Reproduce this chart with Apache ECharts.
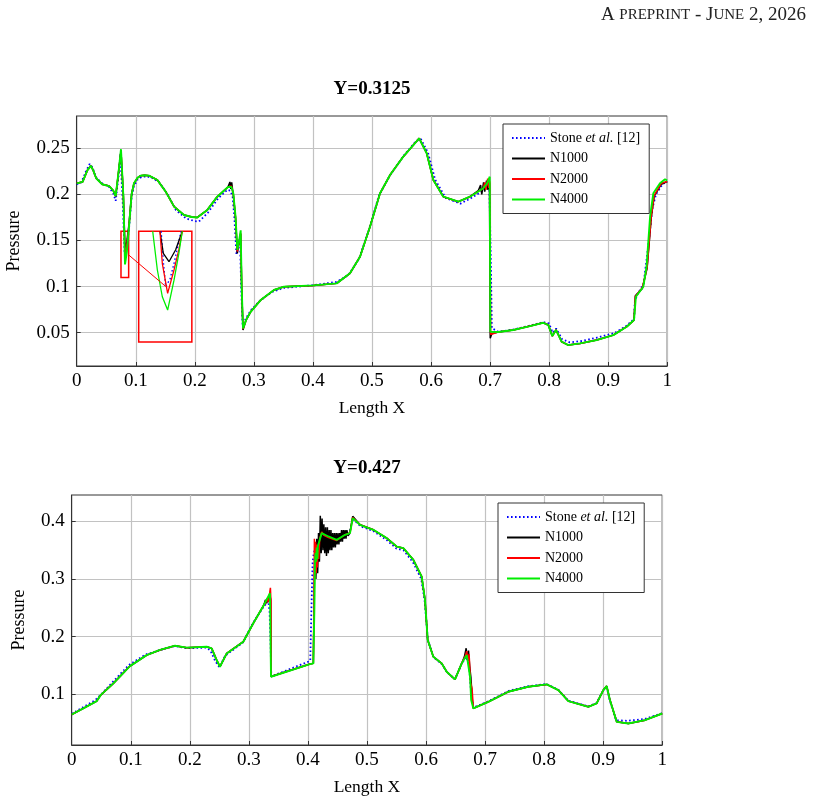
<!DOCTYPE html>
<html>
<head>
<meta charset="utf-8">
<script src="https://cdn.jsdelivr.net/npm/echarts@6/dist/echarts.min.js"></script>
<style>
html, body { margin: 0; padding: 0; background: #fff; }
#chart { width: 813px; height: 804px; }
</style>
</head>
<body>
<div id="chart"></div>
<script>
// ---- Y=0.3125 (upper plot) ----
// pieces shared by the N1000 / N2000 / N4000 runs
const c1Start = [[0, 0.212], [0.01, 0.2135], [0.018, 0.226], [0.024, 0.231], [0.028, 0.226], [0.033, 0.2175], [0.043, 0.211], [0.055, 0.209], [0.062, 0.204], [0.066, 0.198], [0.071, 0.225]]
const c1Mid = [[0.097, 0.212], [0.103, 0.218], [0.108, 0.2203], [0.115, 0.2207], [0.1225, 0.2203], [0.1366, 0.2156], [0.1507, 0.203], [0.165, 0.1867], [0.1817, 0.1776], [0.195, 0.1755], [0.2042, 0.175], [0.221, 0.183], [0.238, 0.1975], [0.2562, 0.208]]
const c1Rise = [[0.287, 0.064], [0.2946, 0.0727], [0.3116, 0.0854], [0.3341, 0.0963], [0.351, 0.0999], [0.4007, 0.1013], [0.4403, 0.1035], [0.4628, 0.1144], [0.4798, 0.1324], [0.4967, 0.1649], [0.5137, 0.2012], [0.5306, 0.221], [0.553, 0.2409], [0.58, 0.2608], [0.5927, 0.2446], [0.604, 0.2156], [0.6209, 0.1975], [0.6463, 0.1921], [0.666, 0.1975]]
const c1Low = [[0.7394, 0.0529], [0.7677, 0.0572], [0.79, 0.0608], [0.7987, 0.0583], [0.8054, 0.0463], [0.8117, 0.053], [0.8213, 0.0402], [0.8325, 0.0366], [0.8523, 0.0384], [0.8806, 0.042], [0.9087, 0.0474], [0.9314, 0.0565], [0.9438, 0.0637]]

// N4000 (green)
const c1DipG = [[0.075, 0.249], [0.079, 0.198], [0.0818, 0.124], [0.085, 0.138], [0.0886, 0.165], [0.093, 0.2]]
const c1ShockG = [[0.262, 0.208], [0.2652, 0.2012], [0.269, 0.1758], [0.272, 0.14], [0.2745, 0.147], [0.2777, 0.161], [0.2794, 0.1], [0.2816, 0.0547]]
const c1JumpG = [[0.6886, 0.2066], [0.695, 0.212], [0.6995, 0.2192], [0.7005, 0.051], [0.714, 0.0507]]
const c1EndG = [[0.947, 0.089], [0.9595, 0.0998], [0.965, 0.1215], [0.971, 0.1758], [0.9765, 0.2012], [0.9878, 0.212], [0.9963, 0.2164], [1, 0.215]]

// N1000 (black)
const c1DipK = [[0.075, 0.247], [0.079, 0.2], [0.0818, 0.142], [0.085, 0.149], [0.0886, 0.168], [0.093, 0.201]]
const c1ShockK = [[0.258, 0.21], [0.2595, 0.2135], [0.261, 0.206], [0.2625, 0.213], [0.264, 0.205], [0.2652, 0.2], [0.269, 0.174], [0.272, 0.136], [0.2745, 0.146], [0.2777, 0.157], [0.2794, 0.1], [0.2816, 0.053]]
const c1JumpK = [[0.68, 0.204], [0.684, 0.21], [0.686, 0.2], [0.689, 0.213], [0.691, 0.203], [0.694, 0.215], [0.696, 0.205], [0.699, 0.212], [0.7003, 0.044], [0.703, 0.049], [0.714, 0.0507]]
const c1EndK = [[0.946, 0.09], [0.958, 0.098], [0.966, 0.12], [0.973, 0.175], [0.978, 0.198], [0.99, 0.211], [1, 0.214]]

// N2000 (red)
const c1DipR = [[0.075, 0.247], [0.079, 0.198], [0.0818, 0.133], [0.085, 0.145], [0.0886, 0.166], [0.093, 0.2]]
const c1ShockR = [[0.262, 0.209], [0.2652, 0.2], [0.269, 0.175], [0.272, 0.138], [0.2745, 0.146], [0.2777, 0.158], [0.2794, 0.1], [0.2816, 0.054]]
const c1JumpR = [[0.6886, 0.2066], [0.691, 0.213], [0.693, 0.205], [0.696, 0.217], [0.698, 0.207], [0.6995, 0.214], [0.701, 0.048], [0.714, 0.0507]]
const c1EndR = [[0.946, 0.089], [0.958, 0.099], [0.966, 0.121], [0.973, 0.176], [0.978, 0.199], [0.99, 0.212], [1, 0.214]]

// Stone et al. (blue dotted)
const c1Stone = [[0, 0.211], [0.008, 0.213], [0.015, 0.224], [0.022, 0.233], [0.027, 0.229], [0.032, 0.219], [0.043, 0.212], [0.055, 0.208], [0.062, 0.201], [0.066, 0.193], [0.071, 0.22],
  [0.074, 0.244], [0.078, 0.19], [0.081, 0.137], [0.085, 0.145], [0.0886, 0.163], [0.093, 0.197],
  [0.097, 0.209], [0.103, 0.216], [0.11, 0.219], [0.118, 0.2195], [0.127, 0.218], [0.14, 0.213], [0.155, 0.199], [0.168, 0.183], [0.185, 0.174], [0.2, 0.171], [0.207, 0.1705], [0.222, 0.18], [0.24, 0.196], [0.255, 0.205], [0.26, 0.204],
  [0.264, 0.198], [0.267, 0.175], [0.2705, 0.135], [0.2735, 0.143], [0.2765, 0.153], [0.2785, 0.1], [0.281, 0.058],
  [0.287, 0.066], [0.295, 0.0745], [0.31, 0.0845], [0.33, 0.094], [0.35, 0.0985], [0.4, 0.1015], [0.44, 0.105], [0.46, 0.1125], [0.478, 0.13], [0.495, 0.162], [0.512, 0.199], [0.53, 0.22], [0.555, 0.243], [0.575, 0.258], [0.583, 0.26], [0.595, 0.245], [0.607, 0.216], [0.625, 0.196], [0.65, 0.19], [0.668, 0.196], [0.688, 0.204],
  [0.695, 0.208], [0.699, 0.205], [0.7015, 0.12], [0.703, 0.055], [0.714, 0.051],
  [0.74, 0.0535], [0.77, 0.058], [0.79, 0.0615], [0.8, 0.06], [0.806, 0.05], [0.812, 0.0545], [0.822, 0.043], [0.835, 0.0395], [0.855, 0.041], [0.88, 0.0445], [0.91, 0.0495], [0.93, 0.057], [0.944, 0.065],
  [0.945, 0.083], [0.949, 0.091], [0.96, 0.103], [0.968, 0.145], [0.975, 0.185], [0.981, 0.2], [0.992, 0.211], [1, 0.214]]

// magnified view of the dip near x=0.08
const insetStone = [[0.143, 0.16], [0.147, 0.125], [0.1507, 0.1], [0.158, 0.108], [0.1648, 0.125], [0.175, 0.155], [0.177, 0.16]]
const insetK = [[0.141, 0.16], [0.1467, 0.136], [0.1563, 0.127], [0.1676, 0.14], [0.1788, 0.16]]
const insetR = [[0.141, 0.16], [0.145, 0.125], [0.154, 0.0927], [0.1648, 0.118], [0.173, 0.14], [0.1788, 0.16]]
const insetG = [[0.1287, 0.16], [0.1366, 0.118], [0.145, 0.089], [0.154, 0.0746], [0.1648, 0.107], [0.173, 0.136], [0.1788, 0.16]]
const zoomSmall = [[0.075, 0.11], [0.088, 0.16]]
const zoomBig = [[0.105, 0.04], [0.195, 0.16]]
const zoomLink = [[0.0886, 0.134], [0.151, 0.1]]

// ---- Y=0.427 (lower plot) ----
const c2Start = [[0, 0.065], [0.0197, 0.0755], [0.0423, 0.0882], [0.049, 0.0986], [0.0705, 0.119], [0.0987, 0.149], [0.127, 0.168], [0.1495, 0.177], [0.175, 0.1844], [0.1947, 0.181], [0.2286, 0.1826], [0.237, 0.1798], [0.2455, 0.1595], [0.2511, 0.1478], [0.2625, 0.171], [0.2906, 0.1913], [0.3075, 0.2233], [0.3245, 0.2534]]
const c2Flat = [[0.4035, 0.1525], [0.4092, 0.1537]]
const c2Tail = [[0.4883, 0.3943], [0.5108, 0.3856], [0.5335, 0.3711], [0.5504, 0.3565], [0.5617, 0.3537], [0.5786, 0.3334], [0.5927, 0.3044], [0.5983, 0.2638], [0.6029, 0.1943], [0.6124, 0.1652], [0.6266, 0.1537], [0.635, 0.1392], [0.6491, 0.1259], [0.6605, 0.1537]]
const c2End = [[0.7056, 0.087], [0.7394, 0.1044], [0.7733, 0.1131], [0.8044, 0.1172], [0.8241, 0.1073], [0.841, 0.0882], [0.8749, 0.0783], [0.889, 0.0842], [0.9003, 0.1073], [0.906, 0.1143], [0.9115, 0.09], [0.923, 0.0522], [0.9426, 0.0494], [0.971, 0.0551], [1, 0.0667]]

const c2PeakG = [[0.3358, 0.2755], [0.3375, 0.1305]]
const c2ShockG = [[0.411, 0.25], [0.412, 0.3277], [0.413, 0.345], [0.414, 0.33], [0.415, 0.355], [0.416, 0.335], [0.417, 0.358], [0.4234, 0.3798], [0.4347, 0.374], [0.4488, 0.3682], [0.4629, 0.3769], [0.4713, 0.3798], [0.4759, 0.4059]]
const c2KinkG = [[0.669, 0.1682], [0.6746, 0.1305], [0.6765, 0.09], [0.6802, 0.0755]]

const c2PeakK = [[0.326, 0.257], [0.328, 0.264], [0.33, 0.258], [0.332, 0.268], [0.334, 0.262], [0.3355, 0.272], [0.337, 0.265], [0.3378, 0.131]]
const c2ShockK = [[0.411, 0.3], [0.412, 0.36], [0.4135, 0.3], [0.415, 0.37], [0.4165, 0.31], [0.418, 0.38], [0.4195, 0.33], [0.421, 0.41], [0.4225, 0.345], [0.424, 0.405], [0.4255, 0.35], [0.427, 0.395], [0.4285, 0.345], [0.43, 0.39], [0.4315, 0.34], [0.433, 0.39], [0.4345, 0.345], [0.436, 0.385], [0.4375, 0.35], [0.439, 0.385], [0.4405, 0.35], [0.442, 0.38], [0.4435, 0.355], [0.445, 0.38], [0.4465, 0.355], [0.448, 0.38], [0.4495, 0.36], [0.451, 0.38], [0.4525, 0.36], [0.454, 0.38], [0.4555, 0.365], [0.457, 0.385], [0.4585, 0.365], [0.46, 0.385], [0.4615, 0.37], [0.463, 0.385], [0.4645, 0.37], [0.466, 0.385], [0.468, 0.375], [0.4713, 0.382], [0.4759, 0.409]]
const c2KinkK = [[0.665, 0.165], [0.668, 0.18], [0.67, 0.162], [0.672, 0.176], [0.674, 0.148], [0.676, 0.13], [0.6785, 0.09], [0.6802, 0.0755]]

const c2PeakR = [[0.328, 0.258], [0.331, 0.266], [0.333, 0.26], [0.3365, 0.285], [0.3375, 0.26], [0.3378, 0.131]]
const c2ShockR = [[0.4105, 0.3], [0.411, 0.37], [0.412, 0.3], [0.413, 0.365], [0.414, 0.31], [0.415, 0.36], [0.416, 0.32], [0.417, 0.35], [0.4185, 0.335], [0.42, 0.37], [0.4234, 0.382], [0.427, 0.376], [0.4347, 0.372], [0.4488, 0.367], [0.4629, 0.377], [0.4713, 0.38], [0.4759, 0.407]]
const c2KinkR = [[0.666, 0.165], [0.669, 0.175], [0.671, 0.158], [0.673, 0.17], [0.6755, 0.12], [0.678, 0.11], [0.6802, 0.0755]]

const c2Stone = [[0, 0.066], [0.02, 0.078], [0.04, 0.09], [0.05, 0.1], [0.07, 0.122], [0.097, 0.151], [0.125, 0.169], [0.15, 0.177], [0.175, 0.184], [0.195, 0.18], [0.228, 0.181], [0.235, 0.176], [0.243, 0.158], [0.25, 0.147], [0.26, 0.167], [0.29, 0.19], [0.307, 0.224], [0.325, 0.252], [0.333, 0.262], [0.335, 0.245], [0.3365, 0.2], [0.338, 0.131],
  [0.404, 0.158], [0.406, 0.25], [0.408, 0.33], [0.41, 0.345], [0.414, 0.36], [0.42, 0.375], [0.43, 0.372], [0.445, 0.368], [0.46, 0.372], [0.47, 0.378], [0.476, 0.404],
  [0.49, 0.391], [0.51, 0.384], [0.533, 0.368], [0.55, 0.353], [0.562, 0.35], [0.578, 0.329], [0.592, 0.3], [0.598, 0.26], [0.603, 0.195], [0.613, 0.164], [0.627, 0.152], [0.636, 0.138], [0.649, 0.126], [0.66, 0.152],
  [0.668, 0.165], [0.673, 0.15], [0.6765, 0.1], [0.6802, 0.077],
  [0.706, 0.088], [0.74, 0.106], [0.773, 0.114], [0.804, 0.118], [0.824, 0.108], [0.841, 0.089], [0.875, 0.079], [0.889, 0.085], [0.9, 0.107], [0.906, 0.113], [0.911, 0.09], [0.922, 0.055], [0.94, 0.054], [0.97, 0.057], [1, 0.067]]

// tick values
const xTicks = [0, 0.1, 0.2, 0.3, 0.4, 0.5, 0.6, 0.7, 0.8, 0.9, 1]
const yTicks1 = [0.05, 0.1, 0.15, 0.2, 0.25]
const yTicks2 = [0.1, 0.2, 0.3, 0.4]
const legendNames = ['Stone et al. [12]', 'N1000', 'N2000', 'N4000']

const FONT = '"Liberation Serif", "DejaVu Serif", serif'
const GRID_COLOR = '#c2c2c2'
const FRAME_COLOR = '#333'

// series styles: blue dotted, black, red, green
const STYLES = {
  'Stone et al. [12]': { color: '#0000ff', width: 1.8, type: [1.6, 2.4] },
  'N1000': { color: '#000000', width: 1.5, type: 'solid' },
  'N2000': { color: '#ff0000', width: 1.5, type: 'solid' },
  'N4000': { color: '#00ee00', width: 1.9, type: 'solid' }
}

function lineSeries(name, data, gi, extra) {
  const st = STYLES[name]
  return Object.assign({
    name: name,
    type: 'line',
    xAxisIndex: gi,
    yAxisIndex: gi,
    data: data,
    symbol: 'none',
    smooth: false,
    animation: false,
    color: st.color,
    lineStyle: { color: st.color, width: st.width, type: st.type }
  }, extra || {})
}

function xAxisOf(gi) {
  return {
    gridIndex: gi,
    type: 'value',
    min: 0,
    max: 1,
    interval: 0.1,
    axisLine: { show: true, onZero: false, lineStyle: { color: FRAME_COLOR, width: 1 } },
    axisTick: { show: true, inside: true, length: 4, lineStyle: { color: FRAME_COLOR } },
    axisLabel: {
      color: '#000', fontFamily: FONT, fontSize: 19, margin: 6,
      customValues: xTicks
    },
    splitLine: { show: true, lineStyle: { color: GRID_COLOR, width: 1.2 } },
    name: 'Length X',
    nameLocation: 'middle',
    nameGap: 33,
    nameTextStyle: { color: '#000', fontFamily: FONT, fontSize: 17.5 }
  }
}

function yAxisOf(gi, min, max, ticks, gap) {
  return {
    gridIndex: gi,
    type: 'value',
    min: min,
    max: max,
    axisLine: { show: true, onZero: false, lineStyle: { color: FRAME_COLOR, width: 1 } },
    axisTick: { show: true, inside: true, length: 4, customValues: ticks, lineStyle: { color: FRAME_COLOR } },
    axisLabel: { color: '#000', fontFamily: FONT, fontSize: 19, margin: 7, customValues: ticks },
    splitLine: { show: true, lineStyle: { color: GRID_COLOR, width: 1.2 } },
    name: 'Pressure',
    nameLocation: 'middle',
    nameRotate: 90,
    nameGap: gap,
    nameTextStyle: { color: '#000', fontFamily: FONT, fontSize: 18 }
  }
}

function legendOf(left, top) {
  return {
    data: legendNames,
    orient: 'vertical',
    left: left,
    top: top,
    padding: [7, 9, 7, 8],
    itemGap: 6.5,
    itemWidth: 33,
    itemHeight: 14,
    backgroundColor: '#fff',
    borderColor: FRAME_COLOR,
    borderWidth: 1,
    borderRadius: 0,
    selectedMode: false,
    // hide the marker the line series would put in the middle of the legend line
    itemStyle: { opacity: 0 },
    formatter: name => name === legendNames[0] ? '{n|Stone }{i|et al.}{n| [12]}' : '{n|' + name + '}',
    textStyle: {
      color: '#000',
      fontFamily: FONT,
      fontSize: 14,
      rich: {
        n: { fontFamily: FONT, fontSize: 14, color: '#000' },
        i: { fontFamily: FONT, fontSize: 14, color: '#000', fontStyle: 'italic' }
      }
    }
  }
}

const chart = echarts.init(document.getElementById('chart'), null, { renderer: 'canvas' })

const option = {
  backgroundColor: '#fff',
  animation: false,
  graphic: [
    {
      type: 'text', right: 7, top: 6,
      style: {
        text: '{b|A }{s|PREPRINT}{b| - J}{s|UNE}{b| 2, 2026}',
        rich: {
          b: { fontFamily: FONT, fontSize: 19, fill: '#222' },
          s: { fontFamily: FONT, fontSize: 15, fill: '#222' }
        }
      }
    },
    {
      type: 'text', x: 372, y: 89,
      style: { text: 'Y=0.3125', font: 'bold 19px ' + FONT, fill: '#000', align: 'center', verticalAlign: 'middle' }
    },
    {
      type: 'text', x: 367, y: 468,
      style: { text: 'Y=0.427', font: 'bold 19px ' + FONT, fill: '#000', align: 'center', verticalAlign: 'middle' }
    }
  ],
  grid: [
    { left: 76.7, top: 116, width: 590.5, height: 250, containLabel: false, outerBoundsMode: 'none', show: true, borderColor: FRAME_COLOR, borderWidth: 1, backgroundColor: 'transparent' },
    { left: 71.7, top: 495, width: 590.5, height: 250, containLabel: false, outerBoundsMode: 'none', show: true, borderColor: FRAME_COLOR, borderWidth: 1, backgroundColor: 'transparent' }
  ],
  xAxis: [xAxisOf(0), xAxisOf(1)],
  yAxis: [
    yAxisOf(0, 0.0139, 0.285, yTicks1, 53),
    yAxisOf(1, 0.012, 0.446, yTicks2, 43)
  ],
  legend: [legendOf(503, 124), legendOf(498, 503)],
  series: [
    // upper plot
    lineSeries('Stone et al. [12]', c1Stone, 0),
    lineSeries('N1000', [...c1Start, ...c1DipK, ...c1Mid, ...c1ShockK, ...c1Rise, ...c1JumpK, ...c1Low, ...c1EndK], 0),
    lineSeries('N2000', [...c1Start, ...c1DipR, ...c1Mid, ...c1ShockR, ...c1Rise, ...c1JumpR, ...c1Low, ...c1EndR], 0),
    lineSeries('N4000', [...c1Start, ...c1DipG, ...c1Mid, ...c1ShockG, ...c1Rise, ...c1JumpG, ...c1Low, ...c1EndG], 0),
    // zoom inset
    lineSeries('Stone et al. [12]', insetStone, 0, { lineStyle: { color: '#0000ff', width: 1.4, type: [1.5, 2.5] } }),
    lineSeries('N1000', insetK, 0, { lineStyle: { color: '#000', width: 1.3 } }),
    lineSeries('N2000', insetR, 0, { lineStyle: { color: '#ff0000', width: 1.3 } }),
    lineSeries('N4000', insetG, 0, {
      lineStyle: { color: '#00ee00', width: 1.3 },
      markArea: {
        silent: true,
        itemStyle: { color: 'rgba(0,0,0,0)', borderColor: '#ff0000', borderWidth: 1.5 },
        label: { show: false },
        data: [
          [{ xAxis: zoomSmall[0][0], yAxis: zoomSmall[0][1] }, { xAxis: zoomSmall[1][0], yAxis: zoomSmall[1][1] }],
          [{ xAxis: zoomBig[0][0], yAxis: zoomBig[0][1] }, { xAxis: zoomBig[1][0], yAxis: zoomBig[1][1] }]
        ]
      },
      markLine: {
        silent: true,
        symbol: ['none', 'none'],
        label: { show: false },
        lineStyle: { color: '#ff0000', width: 1, type: 'solid' },
        data: [[{ coord: zoomLink[0] }, { coord: zoomLink[1] }]]
      }
    }),
    // lower plot
    lineSeries('Stone et al. [12]', c2Stone, 1),
    lineSeries('N1000', [...c2Start, ...c2PeakK, ...c2Flat, ...c2ShockK, ...c2Tail, ...c2KinkK, ...c2End], 1),
    lineSeries('N2000', [...c2Start, ...c2PeakR, ...c2Flat, ...c2ShockR, ...c2Tail, ...c2KinkR, ...c2End], 1),
    lineSeries('N4000', [...c2Start, ...c2PeakG, ...c2Flat, ...c2ShockG, ...c2Tail, ...c2KinkG, ...c2End], 1)
  ]
}

chart.setOption(option)
</script>
</body>
</html>
